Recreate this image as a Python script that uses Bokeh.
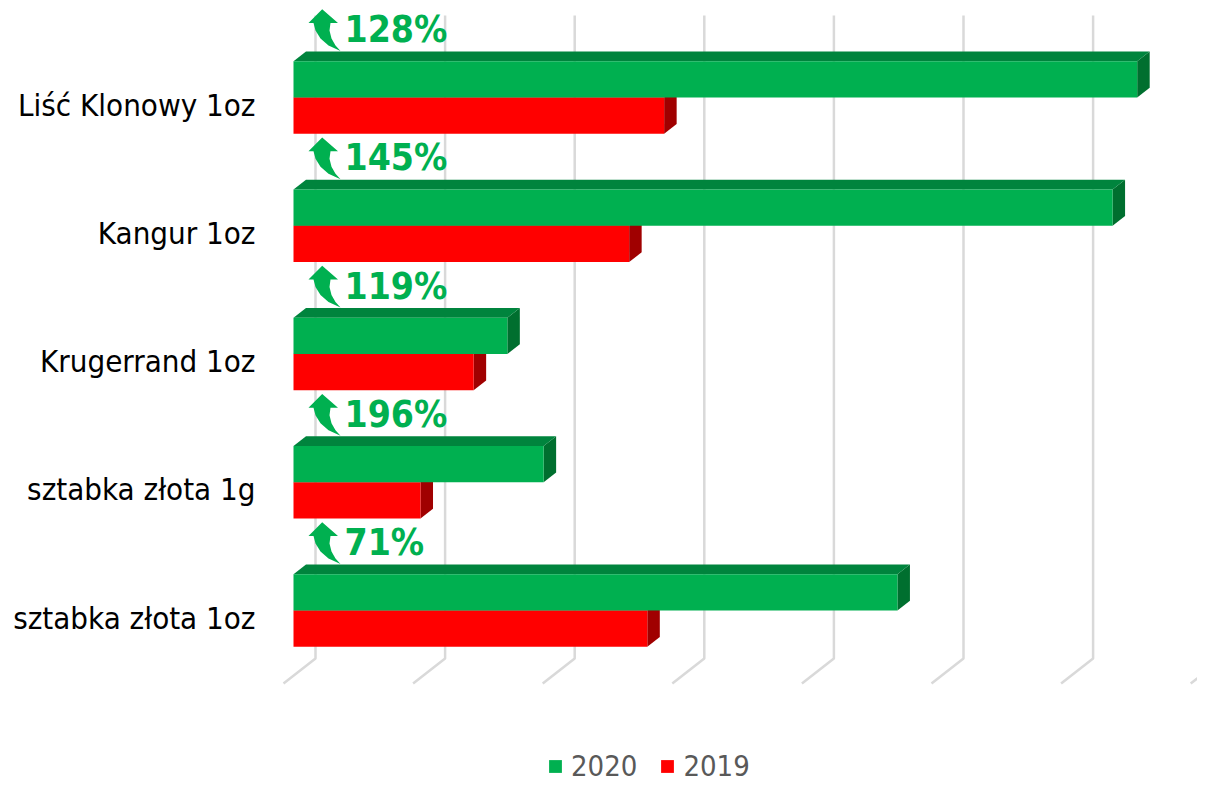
from bokeh.plotting import figure
from bokeh.models import Range1d, FixedTicker, Legend, LegendItem
from bokeh.core.properties import value
from bokeh.embed import file_html
from bokeh.resources import INLINE

# ---------------- data ----------------
categories = ["Liść Klonowy 1oz", "Kangur 1oz", "Krugerrand 1oz",
              "sztabka złota 1g", "sztabka złota 1oz"]
sales_2020 = [6.51, 6.32, 1.65, 1.93, 4.66]
sales_2019 = [2.86, 2.59, 1.39, 0.98, 2.73]
change_labels = ["128%", "145%", "119%", "196%", "71%"]
grid_ticks = [0, 1, 2, 3, 4, 5, 6, 7]
series_names = ["2020", "2019"]

# ---------------- layout constants (pixels) ----------------
SX = 129.6     # px per value unit
SY = 128.25    # px per category
X0 = 293       # px of value 0
TICK0 = 104    # px of the first category tick
def hx(px):
    return px / SX
def hy(px):
    return px / SY

GREEN = "#00B050"
GREEN_TOP = "#00843D"
GREEN_SIDE = "#006F2F"
RED = "#FF0000"
RED_TOP = "#C00000"
RED_SIDE = "#A00000"
GRID = "#D9D9D9"
FONT = "DejaVu Sans Condensed"

BAR_H = 36.3
MID = 97 - TICK0       # green/red boundary relative to tick (px)
DDX, DDY = 12.5, -9.7  # 3D depth of the bars (px)

FIG_W, FIG_H = 1197, 783
FRAME_LEFT = 270
x_start = hx(FRAME_LEFT - X0)
x_end = hx(FIG_W - X0)
y_bottom = hy(FIG_H - TICK0)
y_top = hy(0 - TICK0)

p = figure(width=FIG_W, height=FIG_H, output_backend="svg", toolbar_location=None,
           x_range=Range1d(x_start, x_end), y_range=Range1d(y_bottom, y_top),
           x_axis_location=None, y_axis_location="left",
           min_border_left=FRAME_LEFT, min_border_right=0,
           min_border_top=0, min_border_bottom=0)
p.outline_line_color = None
p.xgrid.visible = False
p.ygrid.visible = False
p.background_fill_color = "white"
p.border_fill_color = "white"

# ---------------- gridlines: back wall + floor ----------------
g_top = hy(15 - TICK0)
g_wall = hy(658 - TICK0)
g_floor = hy(683 - TICK0)
gx, gy = [], []
for k in grid_ticks:
    xb = k + hx(22)
    xf = k + hx(-10)
    gx.append([xb, xb, xf])
    gy.append([g_top, g_wall, g_floor])
p.multi_line(xs=gx, ys=gy, line_color=GRID, line_width=2.5)

# ---------------- bars ----------------
n = len(categories)
ddx, ddy = hx(DDX), hy(DDY)

def faces(vals, top_off, bot_off):
    tops, bots, top_x, top_y, side_x, side_y = [], [], [], [], [], []
    for i, v in enumerate(vals):
        t = i + hy(top_off)
        b = i + hy(bot_off)
        tops.append(t)
        bots.append(b)
        top_x.append([0, v, v + ddx, ddx])
        top_y.append([t, t, t + ddy, t + ddy])
        side_x.append([v, v, v + ddx, v + ddx])
        side_y.append([t, b, b + ddy, t + ddy])
    return tops, bots, top_x, top_y, side_x, side_y

gt, gb, gtx, gty, gsx, gsy = faces(sales_2020, MID - BAR_H, MID)
rt, rb, rtx, rty, rsx, rsy = faces(sales_2019, MID, MID + BAR_H)

p.patches(rsx, rsy, fill_color=RED_SIDE, line_color=None)
p.patches(rtx, rty, fill_color=RED_TOP, line_color=None)
p.patches(gsx, gsy, fill_color=GREEN_SIDE, line_color=None)
p.patches(gtx, gty, fill_color=GREEN_TOP, line_color=None)
red_front = p.quad(left=[0] * n, right=sales_2019, top=rt, bottom=rb,
                   fill_color=RED, line_color=None)
green_front = p.quad(left=[0] * n, right=sales_2020, top=gt, bottom=gb,
                     fill_color=GREEN, line_color=None)

# ---------------- change arrows + labels ----------------
arrow_shape = [(321.7, 8.8), (337.5, 22.5), (330, 22.5), (329, 30), (331, 38),
               (335, 45), (340, 50.5), (328, 45), (320, 38), (315, 30),
               (313, 22.5), (308, 22.5)]
ax, ay = [], []
for i in range(n):
    ax.append([hx(x - X0) for x, y in arrow_shape])
    ay.append([i + hy(y - TICK0) for x, y in arrow_shape])
p.patches(ax, ay, fill_color=GREEN, line_color=None)

p.text(x=[hx(344 - X0)] * n, y=[i + hy(29 - TICK0) for i in range(n)],
       text=change_labels,
       text_font=value(FONT), text_font_style="bold",
       text_font_size="37px", text_color=GREEN,
       text_align="left", text_baseline="middle")

# ---------------- category axis ----------------
yax = p.yaxis[0]
yax.ticker = FixedTicker(ticks=list(range(n)))
yax.major_label_overrides = {i: c for i, c in enumerate(categories)}
yax.axis_line_color = None
yax.major_tick_line_color = None
yax.minor_tick_line_color = None
yax.major_tick_out = 0
yax.major_tick_in = 0
yax.major_label_standoff = 15
yax.major_label_text_font = FONT
yax.major_label_text_font_size = "31px"
yax.major_label_text_color = "#000000"

# ---------------- legend ----------------
legend = Legend(items=[LegendItem(label=series_names[0], renderers=[green_front]),
                       LegendItem(label=series_names[1], renderers=[red_front])],
                orientation="horizontal", location=(547 - FRAME_LEFT, 0),
                padding=0, margin=0, spacing=22, label_standoff=8,
                glyph_width=16, glyph_height=16,
                label_text_font=FONT,
                label_text_font_size="29px", label_text_color="#595959",
                border_line_color=None, background_fill_alpha=0)
p.add_layout(legend)

open("out.html", "w").write(file_html(p, INLINE))
